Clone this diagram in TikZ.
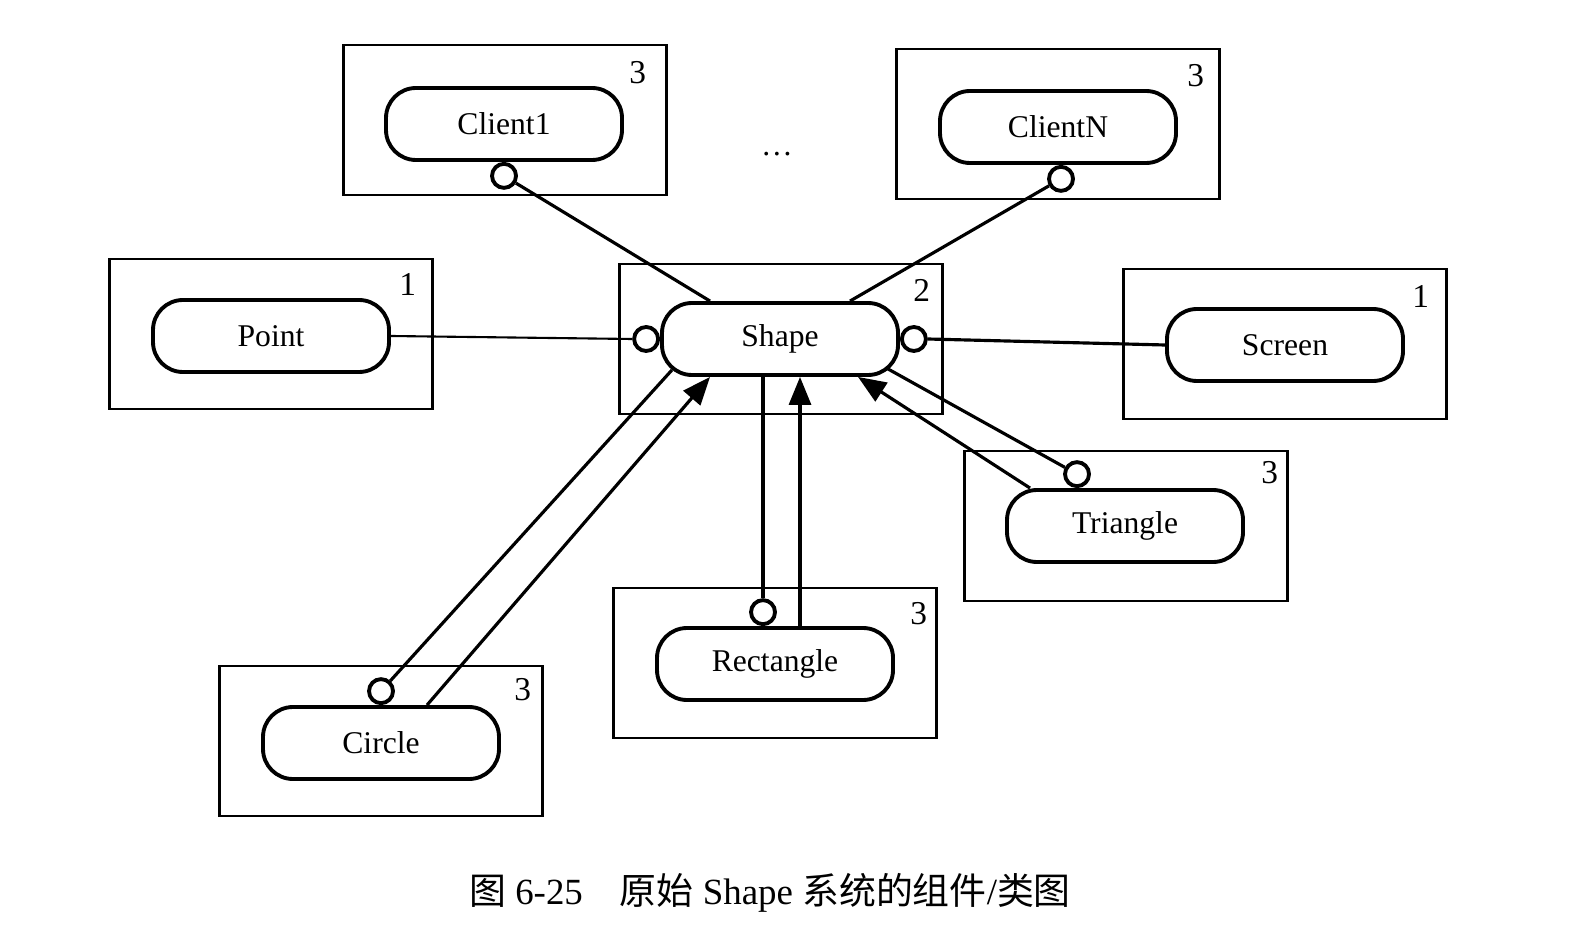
\documentclass[tikz,border=0pt]{standalone}
\usepackage{fontspec}
\setmainfont{Liberation Serif}
\newfontfamily\cjk{Noto Sans CJK SC}
\usetikzlibrary{positioning,arrows.meta}

\begin{document}
\begin{tikzpicture}[x=0.1mm,y=-0.1mm,
  comp/.style={draw,line width=.7pt,minimum width=3.23cm,minimum height=1.5cm,inner sep=0pt},
  cls/.style={draw,fill=white,line width=1.1pt,rounded corners=.3cm,minimum width=2.36cm,minimum height=.72cm,inner sep=0pt},
  lolly/.style={draw,fill=white,circle,line width=1.1pt,minimum size=.24cm,inner sep=0pt},
  num/.style={font=\fontsize{9.5}{11}\selectfont},
  link/.style={line width=.9pt},
  inh/.style={line width=.9pt,-{Triangle[length=.28cm,width=.22cm]}},
  font=\fontsize{9}{11}\selectfont]
\useasboundingbox (0,0) rectangle (1570,944);

% component boxes
\node[comp] (client1box) at (505,120) {};
\node[comp] (clientNbox) at (1058,124) {};
\node[comp] (pointbox) at (271,334) {};
\node[comp] (shapebox) at (781,339) {};
\node[comp] (scrbox) at (1285,344) {};
\node[comp] (tribox) at (1126,526) {};
\node[comp] (rectbox) at (775,663) {};
\node[comp] (circbox) at (381,741) {};

\node[num] at ([shift={(-.3cm,-.29cm)}]client1box.north east) {3};
\node[num] at ([shift={(-.25cm,-.28cm)}]clientNbox.north east) {3};
\node[num] at ([shift={(-.26cm,-.27cm)}]pointbox.north east) {1};
\node[num] at ([shift={(-.22cm,-.28cm)}]shapebox.north east) {2};
\node[num] at ([shift={(-.27cm,-.29cm)}]scrbox.north east) {1};
\node[num] at ([shift={(-.19cm,-.23cm)}]tribox.north east) {3};
\node[num] at ([shift={(-.19cm,-.27cm)}]rectbox.north east) {3};
\node[num] at ([shift={(-.21cm,-.25cm)}]circbox.north east) {3};

% classes
\node[cls] (client1) at (504,124) {Client1};
\node[cls] (clientN) at (1058,127) {ClientN};
\node[cls] (point) at (271,336) {Point};
\node[cls] (shape) at (780,339) {Shape};
\node[cls] (scr) at (1285,345) {Screen};
\node[cls] (tri) at (1125,526) {Triangle};
\node[cls] (rect) at (775,664) {Rectangle};
\node[cls] (circ) at (381,743) {Circle};
\node (dots) at (777,154) {\dots};

% interfaces
\node[lolly,anchor=north] (client1lol) at (client1.south) {};
\node[lolly,anchor=north] (clientNlol) at ([xshift=.03cm]clientN.south) {};
\node[lolly,anchor=east] (shapelolL) at (shape.west) {};
\node[lolly,anchor=west] (shapelolR) at (shape.east) {};
\node[lolly,anchor=south] (trilol) at ([xshift=-.48cm]tri.north) {};
\node[lolly,anchor=south] (rectlol) at ([xshift=-.12cm]rect.north) {};
\node[lolly,anchor=south] (circlol) at (circ.north) {};

% connectors
\draw[link] (client1lol) -- ([xshift=-.7cm]shape.north);
\draw[link] (clientNlol) -- ([xshift=.7cm]shape.north);
\draw[line width=.6pt] (point.east) -- (shapelolL.west);
\draw[link] (shapelolR.east) -- (scr.west);
\draw[link] (trilol) -- ([shift={(-.12cm,.08cm)}]shape.south east);
\draw[inh] ([xshift=-.95cm]tri.north) -- ([xshift=.78cm]shape.south);
\draw[link] (rectlol) -- (rectlol |- shape.south);
\draw[inh] ([xshift=.25cm]rect.north) -- ([xshift=.25cm]rect.north |- shape.south);
\draw[link] (circlol) -- ([shift={(-1.08cm,.07cm)}]shape.south);
\draw[inh] ([xshift=.46cm]circ.north) -- ([xshift=-.7cm]shape.south);

\node (caption) at (770,893) {\fontsize{10.5}{12}\selectfont{\cjk 图} 6-25\quad{\cjk 原始} Shape {\cjk 系统的组件}/{\cjk 类图}};
\end{tikzpicture}
\end{document}
